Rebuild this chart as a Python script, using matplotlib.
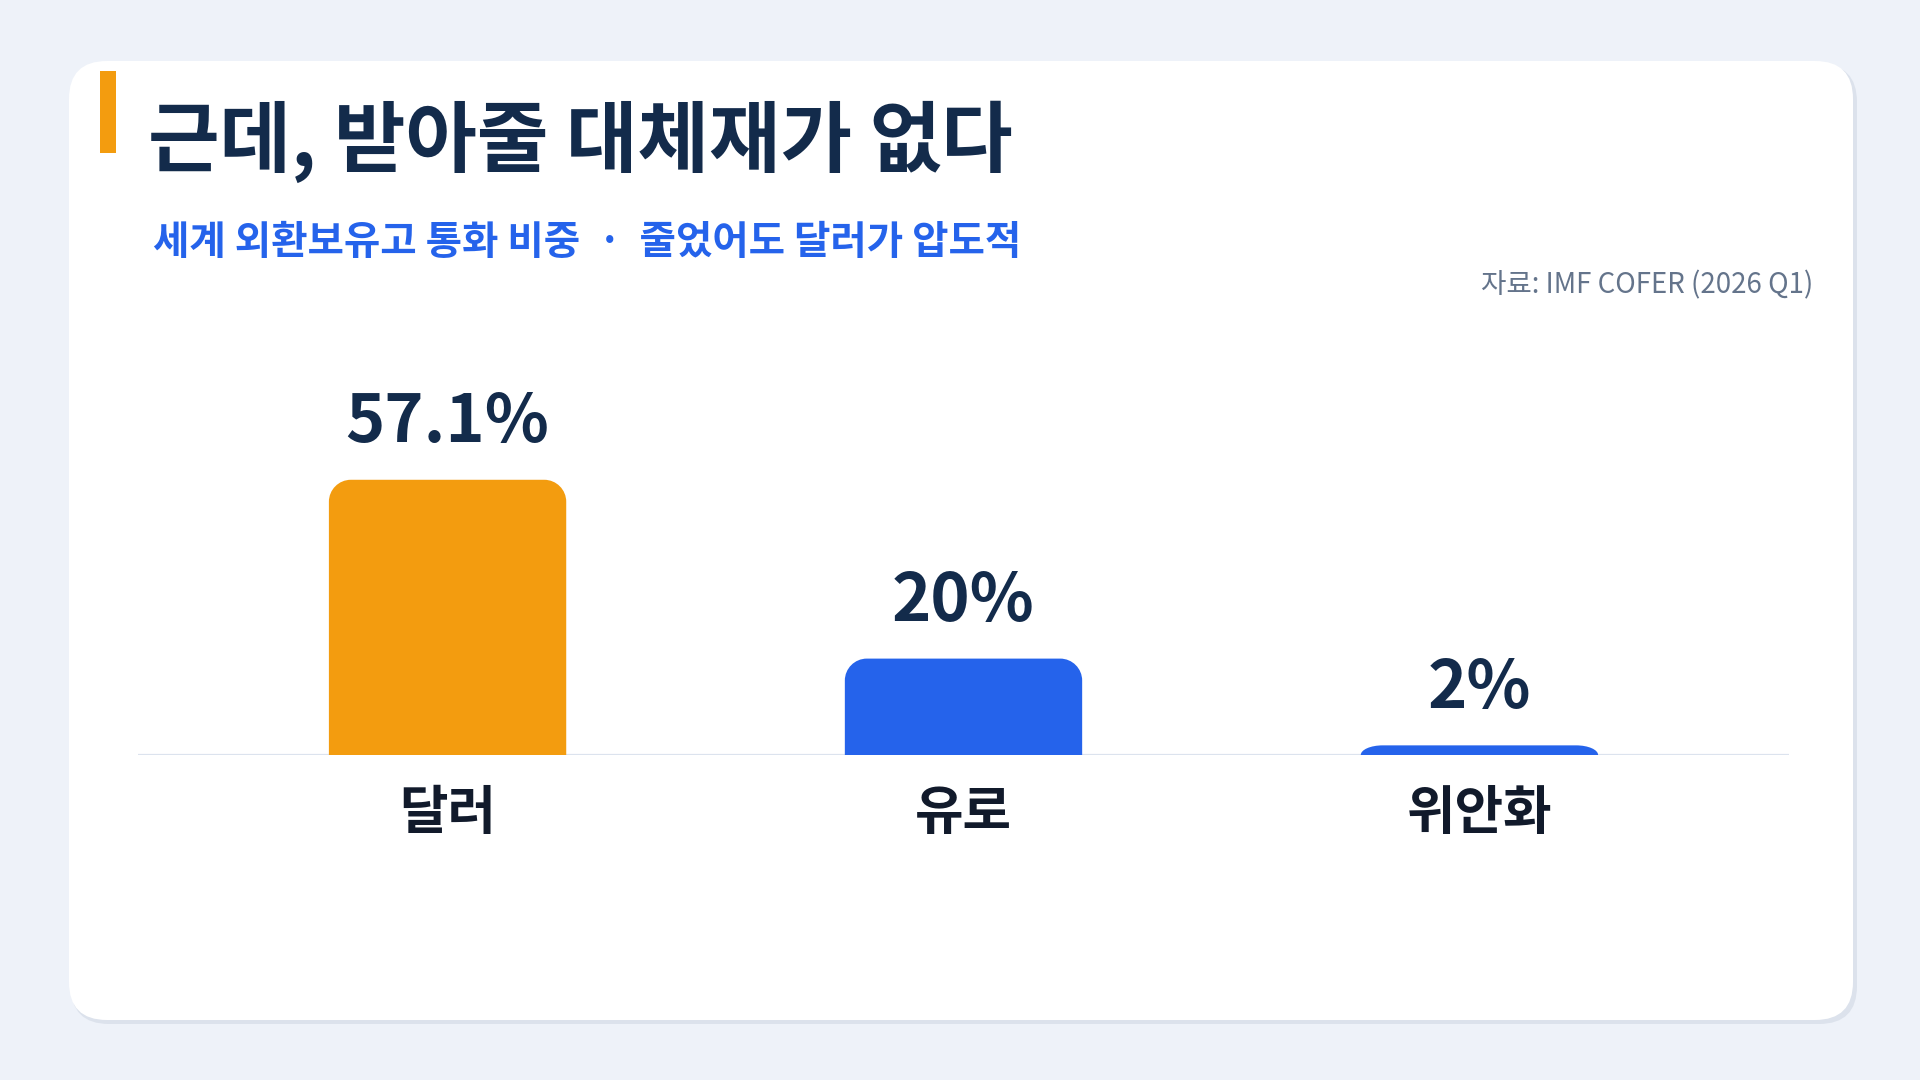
import matplotlib
matplotlib.use('Agg')
import matplotlib.pyplot as plt
from matplotlib.patches import FancyBboxPatch, PathPatch, Rectangle
from matplotlib.path import Path

plt.rcParams['font.family'] = ['Noto Sans CJK KR', 'DejaVu Sans']

# Data
categories = ['달러', '유로', '위안화']
shares = [57.1, 20, 2]
labels = ['57.1%', '20%', '2%']
bar_colors = ['#F39C0F', '#2563EB', '#2563EB']

title = '근데, 받아줄 대체재가 없다'
subtitle = '세계 외환보유고 통화 비중  ·  줄었어도 달러가 압도적'
source = '자료: IMF COFER (2026 Q1)'

W, H = 1920, 1080
fig = plt.figure(figsize=(W / 100, H / 100), dpi=100)
fig.patch.set_facecolor('#EEF2F9')

# background layer in pixel coordinates
bg = fig.add_axes([0, 0, 1, 1])
bg.set_xlim(0, W)
bg.set_ylim(H, 0)
bg.axis('off')

shadow = FancyBboxPatch((71, 64), 1786, 960, boxstyle='round,pad=0,rounding_size=38',
                        fc='#DCE2EC', ec='none')
card = FancyBboxPatch((69, 61), 1784, 959, boxstyle='round,pad=0,rounding_size=38',
                      fc='white', ec='none')
bg.add_patch(shadow)
bg.add_patch(card)
bg.add_patch(Rectangle((100, 71), 16, 82, fc='#F39C0F', ec='none'))

bg.text(148, 142, title, fontsize=56, fontweight='bold', color='#132B4B',
        ha='left', va='center')
bg.text(153, 242, subtitle, fontsize=28.5, fontweight='bold', color='#2563EB',
        ha='left', va='center')
bg.text(1813, 285, source, fontsize=19.9, color='#64748B', ha='right', va='center')

# chart axes: baseline at y=754 px, x from 138 to 1789 px
px_per_unit = 4.82
ax_left, ax_right, base_y, ax_top = 138, 1789, 755, 300
ax = fig.add_axes([ax_left / W, (H - base_y) / H, (ax_right - ax_left) / W,
                   (base_y - ax_top) / H])
ax.set_xlim(-0.6, 2.6)
ax.set_ylim(0, (base_y - ax_top) / px_per_unit)
ax.axis('off')
ax.axhline(0, color='#DCE3EE', lw=1.6, zorder=1)

bar_w = 0.46
x_px = (ax_right - ax_left) / 3.2   # pixels per x unit
r_px = 22


def rounded_top_bar(x0, w, h, rx, ry):
    ry = min(ry, h)
    k = 0.5523
    verts = [(x0, 0), (x0, h - ry),
             (x0, h - ry + k * ry), (x0 + rx - k * rx, h), (x0 + rx, h),
             (x0 + w - rx, h),
             (x0 + w - rx + k * rx, h), (x0 + w, h - ry + k * ry), (x0 + w, h - ry),
             (x0 + w, 0), (x0, 0)]
    codes = [Path.MOVETO, Path.LINETO,
             Path.CURVE4, Path.CURVE4, Path.CURVE4,
             Path.LINETO,
             Path.CURVE4, Path.CURVE4, Path.CURVE4,
             Path.LINETO, Path.CLOSEPOLY]
    return Path(verts, codes)


for i, (v, c, lab, cat) in enumerate(zip(shares, bar_colors, labels, categories)):
    path = rounded_top_bar(i - bar_w / 2, bar_w, v, r_px / x_px, r_px / px_per_unit)
    ax.add_patch(PathPatch(path, fc=c, ec='none', zorder=2))
    ax.annotate(lab, xy=(i, v), xytext=(0, 57 * 0.72), textcoords='offset points',
                ha='center', va='center', fontsize=48, fontweight='bold',
                color='#132B4B', annotation_clip=False)
    ax.annotate(cat, xy=(i, 0), xytext=(0, -58 * 0.72), textcoords='offset points',
                ha='center', va='center', fontsize=38, fontweight='bold',
                color='#111A2B', annotation_clip=False)

fig.savefig('out.png', dpi=100, facecolor=fig.get_facecolor())
